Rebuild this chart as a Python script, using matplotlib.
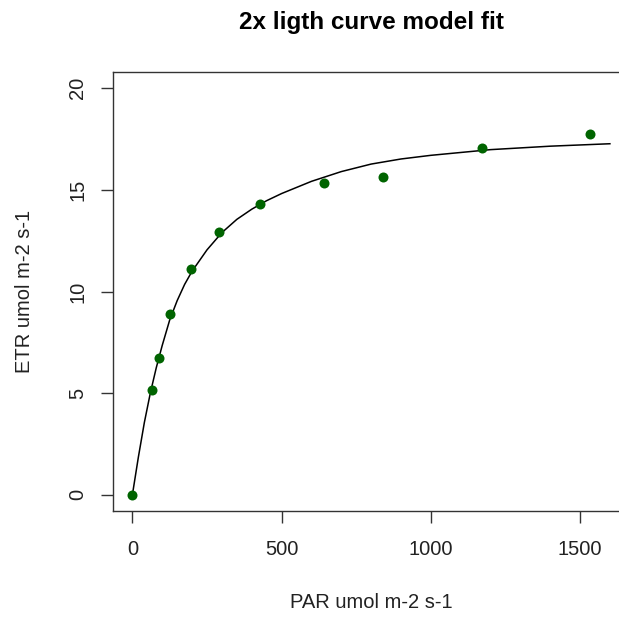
import matplotlib
matplotlib.use("Agg")
import matplotlib.pyplot as plt

# measured light curve points
par = [0, 67, 89, 126, 195, 289, 429, 643, 839, 1172, 1532]
etr = [0, 5.14, 6.73, 8.87, 11.12, 12.93, 14.29, 15.32, 15.65, 17.07, 17.73]

# fitted model curve
fit_par = [0, 20, 40, 60, 80, 100, 125, 150, 175, 200, 250, 300, 350, 400,
           450, 500, 600, 700, 800, 900, 1000, 1200, 1400, 1600]
fit_etr = [0, 1.85, 3.55, 5.0, 6.25, 7.35, 8.6, 9.55, 10.35, 11.0, 12.05, 12.9,
           13.55, 14.05, 14.47, 14.82, 15.42, 15.9, 16.27, 16.52, 16.7, 16.98,
           17.15, 17.27]

x_ticks = [0, 500, 1000, 1500]
y_ticks = [0, 5, 10, 15, 20]

plt.rcParams['font.family'] = ['Liberation Sans', 'DejaVu Sans']

W, H = 619, 618
fig = plt.figure(figsize=(W / 100, H / 100), dpi=100)
left, right, top, bottom = 113.3, 629, 72, 511
ax = fig.add_axes([left / W, 1 - bottom / H, (right - left) / W, (bottom - top) / H])

ax.plot(fit_par, fit_etr, color='black', lw=1.1, zorder=2)
ax.plot(par, etr, 'o', color='#006400', markersize=7.2, markeredgewidth=0, zorder=3)

ax.set_xlim(-64, 1664)
ax.set_ylim(-0.8, 20.8)
ax.set_xticks(x_ticks)
ax.set_yticks(y_ticks)
ax.set_xticklabels([str(v) for v in x_ticks])
ax.set_yticklabels([str(v) for v in y_ticks], rotation=90, va='center')

ax.tick_params(axis='both', length=8.6, width=1, colors='#333333', labelcolor='#222222',
               labelsize=14.5)
ax.tick_params(axis='x', pad=12)
ax.tick_params(axis='y', pad=10)
for s in ax.spines.values():
    s.set_color('#333333')
    s.set_linewidth(1)

cx = (left + right) / 2
fig.text(cx / W, 1 - 22 / H, '2x ligth curve model fit', ha='center', va='center',
         fontsize=17.5, fontweight='bold', color='black')
fig.text(371 / W, 1 - 603 / H, 'PAR umol m-2 s-1', ha='center', va='center',
         fontsize=14.5, color='#222222')
fig.text(25 / W, 1 - 291.5 / H, 'ETR umol m-2 s-1', ha='center', va='center',
         rotation=90, fontsize=14.5, color='#222222')

fig.savefig('out.png', dpi=100)
